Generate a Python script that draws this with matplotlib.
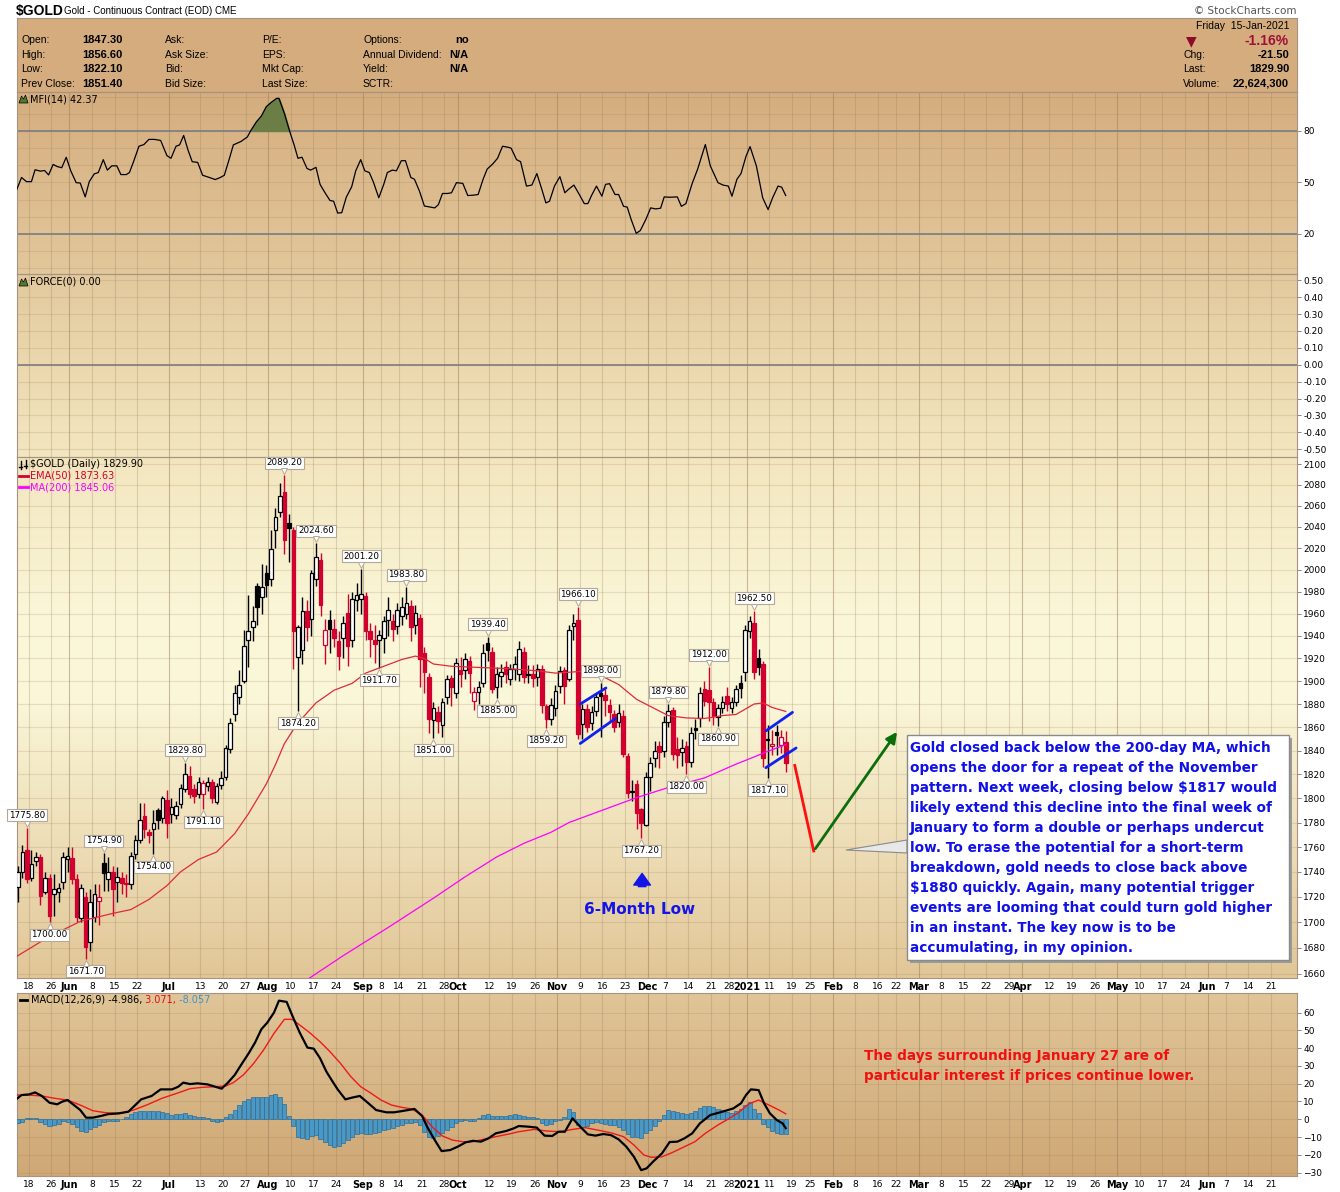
import numpy as np
import pandas as pd
import matplotlib
matplotlib.use('Agg')
import matplotlib.pyplot as plt
import matplotlib.transforms as mtrans
from matplotlib.patches import Rectangle, Polygon
from matplotlib.lines import Line2D
from matplotlib.colors import LinearSegmentedColormap
from matplotlib.ticker import NullLocator, NullFormatter

plt.rcParams['font.family'] = ['DejaVu Sans']

# ---------------- data ----------------
start_date = '2020-05-14'          # first (partly hidden) candle, index -2
holidays = ['2020-05-25', '2020-07-03', '2020-09-07', '2020-11-26', '2020-12-25',
            '2021-01-01', '2021-01-18', '2021-02-15', '2021-04-02', '2021-05-31']

opens = [1728, 1740, 1758, 1735, 1749, 1752, 1724, 1735, 1722, 1724,
         1732, 1750, 1751, 1734, 1703, 1720, 1685, 1704, 1717, 1747,
         1734, 1740, 1732, 1735, 1731, 1730, 1754, 1766, 1785, 1772,
         1774.5, 1790, 1784, 1799, 1787, 1786, 1795, 1808, 1819, 1808,
         1803.5, 1804, 1810.5, 1814, 1797, 1811, 1818, 1841, 1871, 1886,
         1900, 1936, 1948, 1985, 1975, 1997, 1992, 2037, 2054, 2073,
         2044, 2037, 1921, 1927, 1962, 1955, 1992, 2009, 1932, 1954,
         1946, 1935, 1938, 1961, 1936, 1972, 1973, 1976, 1944, 1936,
         1936, 1938, 1954, 1953, 1949, 1958, 1960, 1967, 1950, 1956,
         1925, 1904, 1866.4, 1873, 1862, 1886, 1902.4, 1890, 1910, 1910,
         1917.5, 1882.3, 1890.3, 1898.4, 1933.5, 1926, 1894.7, 1904.6, 1912, 1901.8,
         1911, 1906, 1926, 1906, 1906, 1903.3, 1911, 1878, 1867, 1876.2,
         1895.5, 1910, 1901.8, 1948.5, 1954.5, 1862.6, 1875.7, 1863.5, 1874.2, 1890,
         1887.8, 1879, 1871.3, 1864.1, 1869.8, 1835.6, 1806, 1811.7, 1790.8, 1778.4,
         1818, 1833.4, 1843.7, 1839.4, 1864.6, 1875, 1841.4, 1838.5, 1844.3, 1830,
         1859, 1867.8, 1893, 1892.4, 1882, 1869, 1876.3, 1886.7, 1876.5, 1881.5,
         1898, 1907.6, 1944.5, 1952, 1920.6, 1914.8, 1850, 1844, 1856, 1844.6,
         1847.3]
highs = [1745, 1762, 1775.8, 1758, 1756, 1754, 1740, 1738, 1738, 1731,
         1756, 1760, 1760, 1738, 1730, 1724, 1726, 1730, 1730, 1754.9,
         1752, 1745, 1744, 1740, 1738, 1756, 1770, 1796, 1796, 1775,
         1790, 1792, 1802, 1807, 1800, 1798, 1812, 1829.8, 1827, 1812,
         1818, 1815, 1818, 1816, 1813, 1823, 1845, 1868, 1897, 1910,
         1945, 1977, 1967, 1988, 2005, 2004, 2037, 2058, 2082, 2089.2,
         2052, 2040, 1950, 1975, 1972, 2000, 2024.6, 2016, 1955, 1963,
         1955, 1944, 1958, 1978, 1980, 1988, 2001.2, 1980, 1952, 1950,
         1945, 1958, 1975, 1960, 1970, 1975, 1983.8, 1972, 1968, 1960,
         1930, 1907, 1882, 1878, 1885, 1905, 1905, 1920, 1921, 1925,
         1922, 1895, 1900, 1933, 1939.4, 1930, 1912, 1915, 1918, 1915,
         1922, 1935, 1930, 1914, 1914, 1915, 1914, 1880, 1885, 1897,
         1913, 1912, 1950, 1960, 1966.1, 1880, 1880, 1878, 1890, 1898,
         1893, 1884, 1875, 1880, 1875, 1838, 1815, 1815, 1792, 1822,
         1835, 1848, 1848, 1870, 1879.8, 1877, 1852, 1850, 1848, 1860,
         1867, 1895, 1900, 1912, 1885, 1880, 1887, 1895, 1886, 1897,
         1905, 1950, 1958, 1962.5, 1928, 1918, 1862, 1858, 1862, 1858,
         1856.6]
lows = [1716, 1735, 1731, 1733, 1745, 1714, 1722, 1700, 1705, 1716,
        1726, 1740, 1730, 1700, 1700, 1671.7, 1678, 1700, 1698, 1725,
        1725, 1705, 1716, 1722, 1720, 1726, 1750, 1763, 1767, 1763,
        1754, 1775, 1780, 1767, 1780, 1783, 1792, 1805, 1800, 1796,
        1800, 1791.1, 1806, 1796, 1795, 1808, 1815, 1838, 1865, 1880,
        1898, 1912, 1935, 1950, 1960, 1975, 1985, 2020, 2049, 2015,
        2007, 1911, 1874.2, 1915, 1935, 1940, 1985, 1958, 1915, 1925,
        1930, 1910, 1920, 1913, 1930, 1962, 1960, 1936, 1921, 1916,
        1911.7, 1925, 1940, 1935, 1942, 1950, 1955, 1935, 1942, 1895,
        1890, 1855, 1851, 1855, 1852, 1880, 1878, 1885, 1895, 1902,
        1890, 1875, 1880, 1895, 1918, 1890, 1885, 1895, 1898, 1897,
        1901, 1900, 1898, 1898, 1895, 1896, 1872, 1859.2, 1862, 1870,
        1890, 1880, 1900, 1936, 1850, 1850, 1856, 1858, 1870, 1852,
        1870, 1865, 1856, 1860, 1835, 1800, 1798, 1775, 1767.2, 1777,
        1806, 1826, 1825, 1835, 1860, 1832, 1825, 1827, 1820, 1826,
        1850, 1860, 1878, 1865, 1862, 1860.9, 1872, 1874, 1872, 1878,
        1885, 1900, 1938, 1902, 1905, 1826, 1817.1, 1836, 1836, 1838,
        1822.1]
closes = [1740, 1756, 1734, 1746, 1752, 1721, 1735, 1705, 1726, 1727,
          1752, 1753, 1734, 1704, 1727, 1681, 1716, 1722, 1720, 1739,
          1740, 1726, 1736, 1731, 1730, 1753, 1766, 1782, 1775, 1770,
          1780, 1782, 1800, 1780, 1793, 1794, 1809, 1820, 1804, 1801.6,
          1814, 1813, 1814, 1800, 1810, 1817, 1842, 1864, 1890, 1897,
          1931, 1944, 1953, 1966, 1984, 1986, 2019.5, 2049, 2069, 2028,
          2039, 1944, 1948, 1962, 1948, 1997, 2012, 1968, 1945, 1946,
          1938, 1922, 1952, 1931, 1973, 1977, 1978, 1944, 1937, 1933,
          1941, 1953, 1963, 1946, 1963, 1966, 1970, 1948, 1961, 1919,
          1908, 1867, 1876.8, 1865.6, 1882, 1902, 1894.7, 1915.5, 1906.6, 1919,
          1907.5, 1890.3, 1894.7, 1924.6, 1927.4, 1893.2, 1906.6, 1908, 1906, 1911,
          1914.8, 1928, 1904, 1905, 1903, 1911, 1879, 1867, 1879, 1891.7,
          1909, 1895.5, 1945.5, 1951.5, 1854.3, 1875.7, 1860.6, 1872.8, 1885.8, 1887,
          1883.7, 1872.8, 1860.6, 1872.2, 1837, 1804.2, 1805, 1787.5, 1779.8, 1818.1,
          1829.4, 1840, 1838.5, 1864.6, 1874.2, 1837, 1836.5, 1842.3, 1830.5, 1855.4,
          1857.7, 1889.3, 1882.5, 1881.5, 1869.3, 1876.8, 1882, 1880, 1882, 1893,
          1894, 1945.5, 1953, 1907.6, 1912.8, 1834.2, 1849, 1846, 1853, 1851.4,
          1829.9]

# moving averages, points (day index, price)
ema50_pts = [(-2.5, 1673), (5, 1689), (12, 1701), (19, 1707), (23, 1710), (27, 1718), (31, 1729),
             (34, 1740), (38, 1750), (42, 1756), (46, 1771), (49, 1787), (53, 1812), (55, 1828),
             (57, 1846), (59, 1858), (61, 1868), (64, 1881), (68, 1892), (72, 1898), (75, 1907),
             (79, 1913), (83, 1919), (86, 1922), (88, 1920), (90, 1915), (94, 1913), (100, 1912),
             (106, 1911), (113, 1909), (117, 1907), (121, 1908), (124, 1909), (128, 1903),
             (131, 1897), (135, 1884), (139, 1876), (142, 1870), (146, 1868), (150, 1867.5),
             (154, 1870), (157, 1871), (161, 1880), (163, 1881), (165, 1877), (168, 1873.6)]
ma200_pts = [(60, 1651), (70, 1674), (80, 1696), (90, 1719), (97, 1736), (104, 1752), (110, 1763),
             (116, 1772), (120, 1780), (128, 1791), (135, 1800.6), (142, 1809), (150, 1817),
             (157, 1828.6), (161, 1834.7), (164, 1839.4), (168, 1845.1)]

mfi_pts = [(-2.6, 43.6), (-1.2, 52.9), (-0.1, 50.5), (1.0, 50.5), (1.8, 57.4), (3.0, 56.6), (3.9, 57.0),
           (4.8, 54.4), (5.8, 60.5), (6.7, 59.3), (7.7, 58.6), (8.7, 64.7), (9.7, 56.8), (10.9, 49.9),
           (11.8, 49.7), (12.9, 41.6), (13.8, 50.5), (14.9, 55.0), (15.8, 55.8), (16.9, 63.3),
           (17.8, 57.2), (18.8, 59.7), (19.9, 59.7), (20.8, 54.6), (22.0, 54.6), (22.7, 55.8),
           (23.6, 62.1), (24.8, 71.1), (25.9, 72.1), (27.0, 75.1), (28.2, 75.1), (29.6, 74.5),
           (31.0, 65.6), (31.9, 64.1), (33.0, 71.1), (33.8, 71.9), (34.7, 77.4), (35.7, 68.6),
           (36.6, 62.1), (37.8, 61.7), (38.9, 54.2), (40.2, 53.1), (41.7, 51.7), (42.8, 52.9),
           (43.7, 54.2), (44.8, 63.7), (45.7, 71.9), (47.4, 73.9), (48.8, 76.5), (49.6, 80.4),
           (50.8, 85.3), (51.9, 88.7), (53.0, 94.2), (54.1, 96.7), (55.3, 99.0), (55.8, 99.0),
           (57.0, 90.2), (58.1, 80.4), (59.2, 71.5), (60.0, 64.1), (60.9, 64.7), (62.0, 58.2),
           (62.8, 57.2), (64.0, 58.8), (64.9, 48.9), (66.0, 44.0), (67.1, 39.5), (67.9, 39.1),
           (68.8, 32.2), (69.7, 32.4), (70.7, 41.4), (71.9, 47.5), (72.8, 56.8), (73.9, 63.3),
           (74.8, 56.8), (75.8, 55.8), (76.7, 50.3), (77.9, 41.1), (79.0, 48.9), (79.8, 55.8),
           (80.9, 57.2), (81.8, 56.8), (82.9, 62.7), (83.8, 62.7), (85.0, 52.9), (85.8, 51.9),
           (86.9, 45.0), (88.0, 36.3), (89.2, 35.7), (90.3, 35.2), (91.1, 37.1), (92.0, 43.6),
           (93.1, 43.6), (94.0, 44.0), (95.1, 49.9), (96.5, 49.5), (97.6, 42.4), (98.8, 42.6),
           (99.9, 43.0), (101.0, 51.9), (101.9, 57.8), (103.1, 60.7), (104.2, 64.1), (105.3, 71.1),
           (106.4, 70.6), (107.2, 70.0), (108.4, 63.3), (109.3, 62.1), (110.6, 47.9), (111.8, 48.5),
           (112.9, 55.2), (114.0, 46.0), (114.9, 38.1), (115.7, 39.1), (116.8, 47.9), (118.0, 53.4),
           (119.1, 44.0), (119.9, 46.0), (121.1, 48.5), (122.3, 43.0), (123.4, 37.7), (124.2, 37.7),
           (125.0, 42.4), (126.1, 47.9), (127.3, 42.0), (128.1, 48.9), (129.0, 49.3), (130.2, 43.0),
           (131.0, 43.0), (132.1, 36.1), (132.9, 35.7), (133.8, 28.3), (134.9, 20.4), (135.8, 22.0),
           (137.0, 28.3), (138.1, 35.2), (139.2, 34.6), (140.3, 35.0), (141.1, 41.6), (142.3, 41.4),
           (144.0, 41.6), (144.9, 36.1), (145.9, 37.7), (147.3, 49.5), (148.5, 57.8), (150.2, 72.1),
           (151.3, 59.7), (153.0, 49.9), (154.1, 48.5), (155.3, 47.9), (156.1, 42.0), (157.2, 51.9),
           (158.1, 55.2), (159.2, 65.2), (160.1, 70.9), (161.5, 59.7), (162.9, 41.1), (164.1, 34.2),
           (165.1, 41.1), (166.3, 47.9), (167.1, 47.3), (168.0, 42.4)]

macd_pts = [(-2.6, 10.8), (-1.2, 13.6), (0.5, 14.0), (1.8, 15.1), (3.3, 13.1), (5.0, 9.3), (6.7, 8.4),
            (7.8, 9.9), (9.0, 10.8), (10.4, 8.0), (11.8, 5.2), (13.1, 0.9), (14.6, 0.9), (16.3, 1.8),
            (18.0, 2.9), (20.3, 3.3), (22.5, 4.3), (24.0, 8.0), (25.3, 11.2), (27.6, 13.1),
            (29.6, 16.8), (32.1, 16.8), (33.5, 18.3), (34.6, 20.6), (36.1, 19.8), (37.8, 20.2),
            (40.0, 19.6), (41.7, 18.3), (43.1, 17.2), (44.5, 20.6), (46.0, 24.9), (47.4, 30.5),
            (49.1, 37.1), (50.5, 43.1), (51.9, 50.6), (53.2, 54.3), (54.7, 60.0), (55.8, 66.7),
            (57.5, 66.0), (58.7, 58.6), (60.4, 48.7), (62.1, 40.3), (63.5, 39.7), (64.9, 34.3),
            (66.3, 26.8), (67.7, 21.1), (68.8, 16.8), (70.5, 11.2), (72.2, 12.3), (73.7, 13.1),
            (75.6, 9.0), (77.3, 5.2), (79.6, 3.9), (81.3, 3.9), (83.5, 4.8), (85.8, 5.8), (87.5, 1.8),
            (88.6, -4.2), (90.3, -11.7), (91.8, -17.9), (93.7, -17.3), (95.4, -15.4), (97.1, -13.0),
            (98.8, -12.1), (100.5, -12.6), (102.2, -10.7), (103.8, -7.9), (106.1, -6.6), (107.8, -5.1),
            (108.9, -3.8), (111.2, -4.2), (112.9, -4.7), (114.6, -9.2), (116.3, -9.4), (117.7, -7.0),
            (119.1, -7.0), (120.8, 0.5), (122.5, -4.2), (124.2, -8.5), (125.9, -9.2), (127.6, -8.3),
            (129.3, -8.9), (131.0, -11.3), (132.7, -15.4), (134.4, -21.1), (136.0, -28.6),
            (137.2, -27.6), (138.6, -23.9), (140.6, -19.2), (142.3, -12.8), (144.0, -12.6),
            (145.6, -10.7), (147.3, -7.9), (149.0, -2.3), (151.3, 2.4), (153.2, 3.7), (154.7, 4.8),
            (156.4, 6.1), (158.1, 9.0), (159.2, 13.6), (160.3, 16.8), (162.0, 16.4), (163.2, 9.0),
            (164.5, 3.3), (166.0, -0.4), (167.3, -2.3), (168.0, -4.99)]
signal_pts = [(-2.6, 13.6), (0.5, 13.6), (3.3, 13.1), (6.1, 11.8), (9.0, 10.8), (11.8, 8.0), (14.6, 4.8),
              (17.4, 3.7), (20.8, 3.3), (23.6, 5.2), (26.5, 8.0), (29.9, 11.8), (33.2, 14.6),
              (36.1, 17.2), (38.9, 18.0), (41.7, 18.3), (44.0, 18.7), (45.7, 20.6), (47.9, 24.9),
              (50.2, 31.4), (52.4, 39.0), (54.7, 48.3), (57.0, 56.2), (58.7, 56.2), (60.4, 53.0),
              (62.6, 48.7), (64.9, 43.6), (67.1, 38.0), (69.4, 31.5), (71.7, 24.0), (73.9, 18.3),
              (76.2, 14.6), (78.4, 10.8), (80.7, 8.0), (83.0, 6.7), (85.2, 5.8), (87.5, 2.4),
              (89.7, -4.2), (92.0, -9.4), (94.2, -11.7), (96.5, -12.6), (98.8, -12.6), (101.0, -11.3),
              (103.8, -9.8), (106.7, -8.3), (108.9, -7.0), (112.3, -5.7), (115.1, -6.6), (118.0, -7.0),
              (120.8, -5.7), (123.6, -4.7), (126.4, -6.1), (129.3, -7.6), (132.1, -9.8), (134.4, -14.5),
              (136.6, -20.1), (138.3, -21.4), (140.6, -21.1), (142.8, -18.8), (145.6, -15.4),
              (147.9, -12.6), (150.2, -7.9), (153.0, -3.2), (155.2, 0.0), (157.5, 3.7), (159.8, 8.6),
              (162.0, 10.8), (164.3, 8.0), (166.5, 5.2), (168.0, 3.07)]
# histogram, one bar per trading day starting at index -2
macd_hist = [-2.3, -1.5, 0.5, 0.9, 0.8, -1.5, -2.5, -3.8, -3.5, -2.5,
             -1.0, -1.4, -2.5, -4.2, -6.5, -7.0, -5.5, -4.2, -3.0, -1.8,
             -1.2, -1.0, -0.8, 0.2, 1.2, 2.8, 4.0, 4.5, 4.6, 4.8,
             4.5, 4.8, 4.0, 3.5, 2.6, 3.0, 3.2, 3.6, 2.4, 1.8,
             1.2, 1.0, 0.5, -1.0, -1.6, -1.2, 1.2, 3.0, 5.2, 8.0,
             10.0, 11.5, 12.3, 12.6, 12.8, 12.8, 13.4, 14.2, 12.5, 8.5,
             2.0, -4.0, -9.8, -10.5, -11.0, -9.5, -9.0, -11.0, -13.0, -14.5,
             -15.4, -15.2, -13.5, -11.7, -10.0, -8.5, -7.9, -8.2, -8.5, -7.9,
             -7.2, -6.2, -5.5, -4.8, -3.8, -3.2, -2.2, -1.9, -1.5, -3.5,
             -7.0, -9.8, -10.5, -9.5, -7.9, -6.0, -4.5, -2.0, -0.8, -0.4,
             -0.8, -1.2, 0.8, 2.2, 2.9, 2.0, 1.8, 1.9, 2.0, 2.6,
             2.9, 2.5, 1.8, 1.2, 1.5, 0.5, -2.0, -3.2, -2.8, -1.2,
             -0.5, 1.5, 5.5, 4.0, -3.0, -4.2, -3.8, -2.2, -1.5, -1.9,
             -2.5, -3.0, -3.5, -4.2, -6.0, -8.5, -9.8, -10.0, -10.5, -7.9,
             -6.0, -4.0, -1.0, 2.5, 5.2, 4.8, 4.2, 3.5, 3.0, 3.4,
             4.5, 6.5, 7.4, 7.5, 6.8, 5.8, 5.0, 4.2, 3.8, 4.5,
             6.0, 8.0, 9.5, 6.0, 3.5, -2.5, -4.2, -6.5, -7.8, -8.5,
             -8.06]

# labelled swing points (day index, price)
high_marks = [(0, 1775.8), (17, 1754.9), (35, 1829.8), (57, 2089.2), (64, 2024.6), (74, 2001.2),
              (84, 1983.8), (102, 1939.4), (122, 1966.1), (127, 1898.0), (142, 1879.8),
              (151, 1912.0), (161, 1962.5)]
low_marks = [(5, 1700.0), (13, 1671.7), (28, 1754.0), (39, 1791.1), (60, 1874.2), (78, 1911.7),
             (90, 1851.0), (104, 1885.0), (115, 1859.2), (136, 1767.2), (146, 1820.0),
             (153, 1860.9), (164, 1817.1)]

# hand-drawn annotations (day index, price)
channel_lines = [([122.5, 128.2], [1880, 1894]), ([122.5, 130.3], [1846.1, 1867.5]),
                 ([163.6, 169.5], [1856.8, 1872.8]), ([163.6, 170.3], [1825.6, 1842.3])]
drop_path = ([170.0, 174.2], [1827.5, 1756.8])
rise_tip = (193.0, 1858.0)

note_lines = ["Gold closed back below the 200-day MA, which",
              "opens the door for a repeat of the November",
              "pattern. Next week, closing below \\$1817 would",
              "likely extend this decline into the final week of",
              "January to form a double or perhaps undercut",
              "low. To erase the potential for a short-term",
              "breakdown, gold needs to close back above",
              "\\$1880 quickly. Again, many potential trigger",
              "events are looming that could turn gold higher",
              "in an instant. The key now is to be",
              "accumulating, in my opinion."]
macd_note = ["The days surrounding January 27 are of",
             "particular interest if prices continue lower."]

# ---------------- figure ----------------
W, H = 1340, 1192
L, R = 17, 1297
RED = '#D2002E'
GRID = '#9A7C5A'
SPINE = '#A89282'
fig = plt.figure(figsize=(W / 100, H / 100), dpi=100)
fig.patch.set_facecolor('white')


def px_rect(x0, y0, x1, y1):
    return [x0 / W, 1 - y1 / H, (x1 - x0) / W, (y1 - y0) / H]


def ftext(x, y, s, **kw):
    return fig.text(x / W, 1 - y / H, s, **kw)


def fline(xs, ys, **kw):
    fig.add_artist(Line2D([v / W for v in xs], [1 - v / H for v in ys], **kw))


# trading-day axis and the week / month labels
days = pd.bdate_range(start_date, '2021-07-02')
days = days[~days.isin(pd.to_datetime(holidays))]
pos = np.arange(len(days)) - 2 + 0.4
XMIN, XMAX = -2.2, 281.2
month_first = [i for i in range(1, len(days)) if days[i].month != days[i - 1].month]
week_first = [i for i in range(1, len(days))
              if days[i].isocalendar()[1] != days[i - 1].isocalendar()[1]]
ticks = {}
for i in month_first:
    d = days[i]
    ticks[i] = ('2021' if (d.month == 1 and d.year == 2021) else d.strftime('%b'), True)
for i in week_first:
    if i in ticks or any(abs(i - m) <= 2 for m in month_first):
        continue
    ticks[i] = (str(days[i].day), False)
tick_items = sorted((pos[i], lab, bold) for i, (lab, bold) in ticks.items() if XMIN < pos[i] < 279.5)
tick_pos = [t[0] for t in tick_items]


def panel(y0, y1, colors, stops):
    rect = px_rect(L, y0, R, y1)
    bg = fig.add_axes(rect, zorder=0)
    bg.axis('off')
    cmap = LinearSegmentedColormap.from_list('bg', list(zip(stops, colors)))
    bg.imshow(np.linspace(0, 1, 256).reshape(-1, 1), cmap=cmap, aspect='auto',
              extent=[0, 1, 0, 1], interpolation='bilinear')
    bg.set_xlim(0, 1)
    bg.set_ylim(0, 1)
    ax = fig.add_axes(rect, zorder=1)
    ax.patch.set_alpha(0)
    ax.set_xlim(XMIN, XMAX)
    for sp in ax.spines.values():
        sp.set_color(SPINE)
    ax.yaxis.tick_right()
    ax.tick_params(axis='y', length=3, width=0.6, pad=1.5, labelsize=6.5, color='#8A7060')
    ax.tick_params(axis='x', length=0, labelsize=6.5, pad=3)
    ax.set_xticks([])
    for p, lab, bold in tick_items:
        ax.axvline(p, color=GRID, alpha=0.5 if bold else 0.28, lw=0.8, zorder=1)
    return ax


def bottom_labels(ax):
    ax.set_xticks(tick_pos)
    ax.set_xticklabels([t[1] for t in tick_items])
    for lbl, t in zip(ax.get_xticklabels(), tick_items):
        if t[2]:
            lbl.set_fontweight('bold')
            lbl.set_fontsize(7)


# header block
hdr = fig.add_axes(px_rect(L, 18, R, 92), zorder=1)
hdr.set_facecolor('#D4AC7D')
hdr.set_xticks([])
hdr.set_yticks([])
for sp in hdr.spines.values():
    sp.set_color(SPINE)

ftext(16, 11, '\\$GOLD', fontsize=10, fontweight='bold', va='center', family='Liberation Sans')
ftext(64, 11, 'Gold - Continuous Contract (EOD) CME', fontsize=7, va='center', family='Liberation Sans')
ftext(1296, 11, '\u00a9 StockCharts.com', fontsize=7.5, va='center', ha='right', color='#555555')

rows_y = [40, 55, 69, 84]
col1 = [('Open:', '1847.30'), ('High:', '1856.60'), ('Low:', '1822.10'), ('Prev Close:', '1851.40')]
col2 = ['Ask:', 'Ask Size:', 'Bid:', 'Bid Size:']
col3 = ['P/E:', 'EPS:', 'Mkt Cap:', 'Last Size:']
col4 = [('Options:', 'no'), ('Annual Dividend:', 'N/A'), ('Yield:', 'N/A'), ('SCTR:', '')]
hk = dict(fontsize=7.5, va='center', family='Liberation Sans')
hb = dict(fontsize=8, va='center', family='Liberation Sans', fontweight='bold')
for y, (a, b), c, d, (e, f) in zip(rows_y, col1, col2, col3, col4):
    ftext(21, y, a, **hk)
    ftext(82, y, b, **hb)
    ftext(165, y, c, **hk)
    ftext(262, y, d, **hk)
    ftext(363, y, e, **hk)
    ftext(455 if f == 'no' else 449, y, f, **hb)
ftext(1289, 26, 'Friday  15-Jan-2021', ha='right', **hk)
ftext(1191, 41, '\u25bc', fontsize=10, color='#8E0A2C', ha='center', va='center')
ftext(1289, 41, '-1.16%', fontsize=10, fontweight='bold', color='#A01038', ha='right', va='center',
      family='Liberation Sans')
for y, a, b in [(55, 'Chg:', '-21.50'), (69, 'Last:', '1829.90'), (84, 'Volume:', '22,624,300')]:
    ftext(1183, y, a, **hk)
    ftext(1289, y, b, ha='right', **hb)

# ---------------- MFI ----------------
mfi = panel(92, 274, ['#D5AD7E', '#E2C89C'], [0, 1])
mfi.set_ylim(-3.3, 102.7)
mfi.set_yticks([20, 50, 80])
for v in range(0, 101, 10):
    mfi.axhline(v, color=GRID, alpha=0.2, lw=0.8, zorder=1)
for v in (20, 80):
    mfi.axhline(v, color='#7C7C80', lw=1.2, zorder=2)
mx = np.array([p[0] for p in mfi_pts])
my = np.array([p[1] for p in mfi_pts])
mfi.fill_between(mx, 80, my, where=my > 80, interpolate=True, color='#6B7E45', zorder=3)
mfi.plot(mx, my, color='black', lw=0.9, zorder=4)
ftext(30, 99, 'MFI(14) 42.37', fontsize=7, va='center')
fig.add_artist(Polygon([(19 / W, 1 - 103 / H), (21.5 / W, 1 - 96 / H), (23.5 / W, 1 - 99 / H),
                        (25.5 / W, 1 - 95 / H), (28 / W, 1 - 103 / H)], closed=True,
                       fc='#4F7A2E', ec='black', lw=0.5, transform=fig.transFigure))

# ---------------- FORCE ----------------
force = panel(274, 457, ['#E3C99D', '#F3E7C0'], [0, 1])
force.set_ylim(-0.546, 0.537)
fticks = [k / 10 for k in range(-5, 6)]
force.set_yticks(fticks)
force.set_yticklabels(['%.2f' % (v if abs(v) > 1e-9 else 0.0) for v in fticks])
for v in fticks:
    force.axhline(v, color=GRID, alpha=0.2, lw=0.8, zorder=1)
force.axhline(0, color='#7C7C80', lw=1.2, zorder=2)
ftext(30, 282, 'FORCE(0) 0.00', fontsize=7, va='center')
fig.add_artist(Polygon([(19 / W, 1 - 286 / H), (21.5 / W, 1 - 279 / H), (23.5 / W, 1 - 282 / H),
                        (25.5 / W, 1 - 278 / H), (28 / W, 1 - 286 / H)], closed=True,
                       fc='#4F7A2E', ec='black', lw=0.5, transform=fig.transFigure))

# ---------------- price ----------------
ax = panel(457, 978, ['#F3E6BF', '#FAF6D7', '#FBF8DA', '#E1C697'], [0, 0.3, 0.45, 1])
ax.set_yscale('log')
ax.set_ylim(1656.9, 2106.8)
pticks = list(range(1660, 2101, 20))
ax.set_yticks(pticks)
ax.set_yticklabels([str(v) for v in pticks])
ax.yaxis.set_minor_locator(NullLocator())
ax.yaxis.set_minor_formatter(NullFormatter())
for v in pticks:
    ax.axhline(v, color=GRID, alpha=0.2, lw=0.8, zorder=1)
bottom_labels(ax)

o = np.array(opens, float)
h = np.array(highs, float)
lo = np.array(lows, float)
c = np.array(closes, float)
x = np.arange(len(c)) - 2
prev = np.r_[o[0], c[:-1]]
edge = np.where(c >= prev, 'black', RED)
face = np.where(c > o, 'white', edge)
ax.vlines(x, lo, h, colors=edge, lw=1.0, zorder=3)
body = np.maximum(np.abs(c - o), 0.9)
ax.bar(x, body, bottom=np.minimum(o, c), width=0.8, color=face, edgecolor=edge, lw=0.9, zorder=4)

ax.plot([p[0] for p in ema50_pts], [p[1] for p in ema50_pts], color='#E02A3A', lw=0.9, zorder=5)
ax.plot([p[0] for p in ma200_pts], [p[1] for p in ma200_pts], color='#FF00FF', lw=0.9, zorder=5)

box_style = dict(boxstyle='square,pad=0.18', fc='white', ec='#B4A898', lw=0.8)
up5 = mtrans.offset_copy(ax.transData, fig=fig, x=0, y=4, units='dots')
dn5 = mtrans.offset_copy(ax.transData, fig=fig, x=0, y=-4, units='dots')
for xi, yi in high_marks:
    ax.annotate('%.2f' % yi, (xi, yi), xytext=(0, 8), textcoords='offset pixels', ha='center',
                va='bottom', fontsize=6.3, bbox=box_style, zorder=8)
    ax.plot(xi, yi, marker='v', ms=5, mfc='white', mec='#B4A898', mew=0.7, transform=up5, zorder=9)
for xi, yi in low_marks:
    ax.annotate('%.2f' % yi, (xi, yi), xytext=(0, -8), textcoords='offset pixels', ha='center',
                va='top', fontsize=6.3, bbox=box_style, zorder=8)
    ax.plot(xi, yi, marker='^', ms=5, mfc='white', mec='#B4A898', mew=0.7, transform=dn5, zorder=9)

for xs, ys in channel_lines:
    ax.plot(xs, ys, color='#1020F0', lw=2, zorder=7, solid_capstyle='round')
ax.plot(drop_path[0], drop_path[1], color='#FF1010', lw=2, zorder=7)
ax.annotate('', xy=rise_tip, xytext=(drop_path[0][1], drop_path[1][1]),
            arrowprops=dict(arrowstyle='-|>', color='#0B6E0B', lw=2, mutation_scale=16), zorder=7)
ax.annotate('', xy=(136.2, 1741), xytext=(136.2, 1726),
            arrowprops=dict(arrowstyle='simple,head_length=0.7,head_width=1.0,tail_width=0.45',
                            color='#1414E6', mutation_scale=12), zorder=7)
ax.text(135.7, 1710, '6-Month Low', color='#1414E6', fontsize=11, fontweight='bold',
        ha='center', va='center', zorder=7)

ftext(30, 464, '\\$GOLD (Daily) 1829.90', fontsize=7, va='center')
fline([19, 22], [467, 467], color='black', lw=1)
fline([24, 27], [466, 466], color='black', lw=1)
fline([20.5, 20.5], [461, 469], color='black', lw=1)
fline([25.5, 25.5], [460, 468], color='black', lw=1)
fline([19, 28], [476, 476], color=RED, lw=2)
ftext(30, 476, 'EMA(50) 1873.63', fontsize=7, va='center', color=RED)
fline([19, 28], [487, 487], color='#FF00FF', lw=2)
ftext(30, 487, 'MA(200) 1845.06', fontsize=7, va='center', color='#FF00FF')

# note box with pointer
fig.add_artist(Rectangle((910 / W, 1 - 963 / H), 382 / W, 225 / H, fc='#9A9A9A', ec='none',
                         transform=fig.transFigure, zorder=10))
fig.add_artist(Polygon([(907 / W, 1 - 840 / H), (846 / W, 1 - 850 / H), (907 / W, 1 - 853 / H)],
                       closed=True, fc='#E8E8E8', ec='#8A8A8A', lw=0.8,
                       transform=fig.transFigure, zorder=11))
fig.add_artist(Rectangle((907 / W, 1 - 960 / H), 382 / W, 225 / H, fc='white', ec='#8A8A8A',
                         lw=1, transform=fig.transFigure, zorder=12))
for k, line in enumerate(note_lines):
    t = ftext(910, 748 + 20 * k, line, fontsize=9.8, fontweight='bold', color='#1010E8', va='center')
    t.set_zorder(13)

# ---------------- MACD ----------------
macd = panel(993, 1176, ['#E0C598', '#CFA876'], [0, 1])
macd.set_ylim(-31.9, 71.0)
mt = list(range(-30, 61, 10))
macd.set_yticks(mt)
for v in mt:
    macd.axhline(v, color=GRID, alpha=0.2, lw=0.8, zorder=1)
bottom_labels(macd)
hx = np.arange(len(macd_hist)) - 2
macd.bar(hx, macd_hist, width=0.9, color='#4A98C6', edgecolor='#2C6C96', lw=0.5, zorder=3)
macd.plot([p[0] for p in signal_pts], [p[1] for p in signal_pts], color='#F01818', lw=1.0, zorder=4)
macd.plot([p[0] for p in macd_pts], [p[1] for p in macd_pts], color='black', lw=1.6, zorder=5)

fline([20, 27], [1000, 1000], color='black', lw=2)
t1 = ftext(31, 1000, 'MACD(12,26,9) -4.986,', fontsize=7, va='center')
t2 = macd.annotate(' 3.071,', xy=(1, 0.5), xycoords=t1, va='center', ha='left', fontsize=7,
                   color='#E01010', annotation_clip=False)
macd.annotate(' -8.057', xy=(1, 0.5), xycoords=t2, va='center', ha='left', fontsize=7,
              color='#3A96C8', annotation_clip=False)
for k, line in enumerate(macd_note):
    ftext(864, 1056 + 20 * k, line, fontsize=9.8, fontweight='bold', color='#F01010', va='center')

fig.savefig('out.png', dpi=100, facecolor='white')
